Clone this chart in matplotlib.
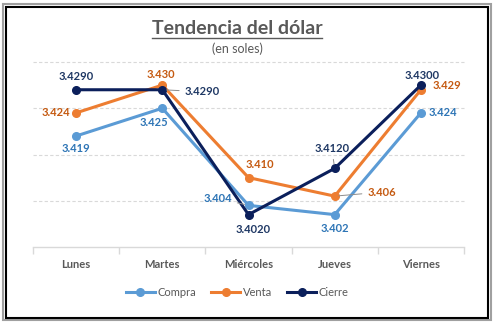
import matplotlib
matplotlib.use("Agg")
import matplotlib.pyplot as plt
from matplotlib.lines import Line2D
from matplotlib.patches import Rectangle

plt.rcParams["font.family"] = ["Lato", "DejaVu Sans"]

DAYS = ["Lunes", "Martes", "Miércoles", "Jueves", "Viernes"]
COMPRA = [3.419, 3.425, 3.404, 3.402, 3.424]
VENTA = [3.424, 3.430, 3.410, 3.406, 3.429]
CIERRE = [3.429, 3.429, 3.402, 3.412, 3.430]

GRAY = "#595959"
SERIES = [
    # name, values, line colour, label colour, label format, label offsets (px)
    ("Compra", COMPRA, "#5B9BD5", "#2E75B6", "{:.3f}",
     [(0, -12), (-8, -14), (-31, 7), (0, -14), (22, 0)]),
    ("Venta", VENTA, "#ED7D31", "#C55A11", "{:.3f}",
     [(-20, 0), (-1, 11), (11, 13), (47, 4), (26, 4)]),
    ("Cierre", CIERRE, "#0B1F5B", "#1F3864", "{:.4f}",
     [(0, 13), (40, -2), (5, -15), (-3, 20), (1, 10)]),
]
# labels that get a leader line back to their point
LEADERS = {("Compra", 2), ("Venta", 3), ("Cierre", 1), ("Cierre", 3)}

fig = plt.figure(figsize=(4.94, 3.23), dpi=100)
ax = fig.add_axes([33 / 494, 1 - 247 / 323, 431 / 494, 185 / 323])

xs = list(range(len(DAYS)))
handles = []
for name, vals, lc, tc, fmt, offs in SERIES:
    ln, = ax.plot(xs, vals, color=lc, lw=2.2, marker="o", ms=5.5, zorder=3,
                  solid_joinstyle="round", label=name)
    handles.append(ln)
    for i, (v, off) in enumerate(zip(vals, offs)):
        arrow = None
        if (name, i) in LEADERS:
            arrow = dict(arrowstyle="-", color="#8C8C8C", lw=0.7, shrinkA=2, shrinkB=3)
        ax.annotate(fmt.format(v), xy=(i, v), xytext=off, textcoords="offset pixels",
                    ha="center", va="center", fontsize=8, fontweight="bold",
                    color=tc, arrowprops=arrow, zorder=4)

ax.set_xlim(-0.5, len(DAYS) - 0.5)
ax.set_ylim(3.395, 3.435)
for gy in [3.405, 3.415, 3.425, 3.435]:
    ax.axhline(gy, color="#D9D9D9", lw=0.8, ls=(0, (3, 2)), zorder=1, clip_on=False)

for s in ["top", "left", "right"]:
    ax.spines[s].set_visible(False)
ax.spines["bottom"].set_color("#D9D9D9")
ax.spines["bottom"].set_linewidth(1)
ax.set_yticks([])
ax.set_xticks(xs)
ax.set_xticklabels(DAYS, fontsize=8, fontweight="bold", color=GRAY)
ax.set_xticks([i - 0.5 for i in range(len(DAYS) + 1)], minor=True)
ax.tick_params(axis="x", which="major", length=0, pad=9)
ax.tick_params(axis="x", which="minor", length=5, color="#D9D9D9", width=1)

title = fig.text(0.48, 1 - 28 / 323, "Tendencia del dólar", ha="center", va="center",
                 fontsize=14, fontweight="bold", color=GRAY)
fig.text(0.48, 1 - 49 / 323, "(en soles)", ha="center", va="center", fontsize=9, color=GRAY)

fig.legend(handles=handles, loc="center", bbox_to_anchor=(0.48, 1 - 292 / 323), ncol=3,
           frameon=False, fontsize=8, labelcolor=GRAY, handlelength=2.6,
           handletextpad=0.2, columnspacing=1.4, markerscale=1)

# underline the title
fig.canvas.draw()
bb = title.get_window_extent().transformed(fig.transFigure.inverted())
fig.add_artist(Line2D([bb.x0, bb.x1], [bb.y0 - 0.004, bb.y0 - 0.004],
                      color=GRAY, lw=1, transform=fig.transFigure))

# double frame around the chart
fig.add_artist(Rectangle((3 / 494, 3 / 323), 488 / 494, 316 / 323, fill=False,
                         ec="#A0A0A0", lw=1.5, transform=fig.transFigure))
fig.add_artist(Rectangle((5.5 / 494, 5.5 / 323), 482 / 494, 311 / 323, fill=False,
                         ec="black", lw=1.5, transform=fig.transFigure))

fig.savefig("out.png", dpi=100)
